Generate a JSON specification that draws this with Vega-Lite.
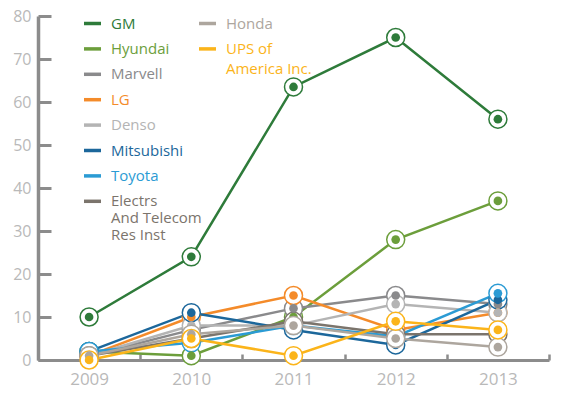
{
  "$schema": "https://vega.github.io/schema/vega-lite/v6.json",
  "width": 511,
  "height": 344,
  "autosize": {"type": "none"},
  "padding": {"left": 38, "top": 16, "right": 21, "bottom": 40},
  "background": "white",
  "config": {"view": {"stroke": null}, "font": "Open Sans"},
  "data": {
    "values": [
      {"company": "GM", "year": 2009, "count": 10},
      {"company": "GM", "year": 2010, "count": 24},
      {"company": "GM", "year": 2011, "count": 63.5},
      {"company": "GM", "year": 2012, "count": 75},
      {"company": "GM", "year": 2013, "count": 56},
      {"company": "Hyundai", "year": 2009, "count": 2},
      {"company": "Hyundai", "year": 2010, "count": 1},
      {"company": "Hyundai", "year": 2011, "count": 10},
      {"company": "Hyundai", "year": 2012, "count": 28},
      {"company": "Hyundai", "year": 2013, "count": 37},
      {"company": "Marvell", "year": 2009, "count": 1},
      {"company": "Marvell", "year": 2010, "count": 7},
      {"company": "Marvell", "year": 2011, "count": 12},
      {"company": "Marvell", "year": 2012, "count": 15},
      {"company": "Marvell", "year": 2013, "count": 13},
      {"company": "LG", "year": 2009, "count": 1},
      {"company": "LG", "year": 2010, "count": 10},
      {"company": "LG", "year": 2011, "count": 15},
      {"company": "LG", "year": 2012, "count": 7},
      {"company": "LG", "year": 2013, "count": 11},
      {"company": "Denso", "year": 2009, "count": 1},
      {"company": "Denso", "year": 2010, "count": 8},
      {"company": "Denso", "year": 2011, "count": 8},
      {"company": "Denso", "year": 2012, "count": 13},
      {"company": "Denso", "year": 2013, "count": 11},
      {"company": "Mitsubishi", "year": 2009, "count": 2},
      {"company": "Mitsubishi", "year": 2010, "count": 11},
      {"company": "Mitsubishi", "year": 2011, "count": 7},
      {"company": "Mitsubishi", "year": 2012, "count": 3.5},
      {"company": "Mitsubishi", "year": 2013, "count": 14},
      {"company": "Toyota", "year": 2009, "count": 2},
      {"company": "Toyota", "year": 2010, "count": 4},
      {"company": "Toyota", "year": 2011, "count": 8},
      {"company": "Toyota", "year": 2012, "count": 5.5},
      {"company": "Toyota", "year": 2013, "count": 15.5},
      {"company": "Electrs And Telecom Res Inst", "year": 2009, "count": 1},
      {"company": "Electrs And Telecom Res Inst", "year": 2010, "count": 5},
      {"company": "Electrs And Telecom Res Inst", "year": 2011, "count": 9},
      {"company": "Electrs And Telecom Res Inst", "year": 2012, "count": 6},
      {"company": "Electrs And Telecom Res Inst", "year": 2013, "count": 6},
      {"company": "Honda", "year": 2009, "count": 1},
      {"company": "Honda", "year": 2010, "count": 6},
      {"company": "Honda", "year": 2011, "count": 8},
      {"company": "Honda", "year": 2012, "count": 5},
      {"company": "Honda", "year": 2013, "count": 3},
      {"company": "UPS of America Inc.", "year": 2009, "count": 0},
      {"company": "UPS of America Inc.", "year": 2010, "count": 5},
      {"company": "UPS of America Inc.", "year": 2011, "count": 1},
      {"company": "UPS of America Inc.", "year": 2012, "count": 9},
      {"company": "UPS of America Inc.", "year": 2013, "count": 7}
    ]
  },
  "encoding": {
    "x": {
      "field": "year",
      "type": "ordinal",
      "scale": {"type": "band", "paddingInner": 0, "paddingOuter": 0},
      "axis": {
        "title": null,
        "grid": false,
        "labelAngle": 0,
        "tickBand": "extent",
        "domainColor": "#8c8c8c",
        "domainWidth": 3,
        "tickColor": "#8c8c8c",
        "tickWidth": 2.5,
        "tickSize": -6,
        "labelColor": "#b9b9b9",
        "labelFontSize": 17,
        "labelPadding": 17
      }
    },
    "y": {
      "field": "count",
      "type": "quantitative",
      "scale": {"domain": [0, 80]},
      "axis": {
        "title": null,
        "grid": false,
        "values": [0, 10, 20, 30, 40, 50, 60, 70, 80],
        "domainColor": "#8c8c8c",
        "domainWidth": 3.5,
        "tickColor": "#8c8c8c",
        "tickWidth": 3,
        "tickSize": -13,
        "labelColor": "#b9b9b9",
        "labelFontSize": 16,
        "labelPadding": 20
      }
    }
  },
  "layer": [
    {
      "transform": [{"filter": {"field": "company", "oneOf": ["GM", "Hyundai", "Marvell", "LG", "Denso", "Mitsubishi", "Toyota", "Electrs And Telecom Res Inst"]}}],
      "mark": {"type": "line", "strokeWidth": 2.5},
      "encoding": {
        "color": {
          "field": "company",
          "type": "nominal",
          "scale": {
            "domain": ["GM", "Hyundai", "Marvell", "LG", "Denso", "Mitsubishi", "Toyota", "Electrs And Telecom Res Inst"],
            "range": ["#2e7b3a", "#6c9e3b", "#8a8a8c", "#f48b2a", "#b4b4b4", "#1c679b", "#2b9bd4", "#7b746c"]
          },
          "legend": {
            "title": null,
            "orient": "none",
            "legendX": 44,
            "legendY": -3,
            "padding": 0,
            "symbolType": "stroke",
            "symbolSize": 289,
            "symbolStrokeWidth": 3.5,
            "labelFontSize": 15,
            "labelOffset": 8,
            "rowPadding": 6.4,
            "labelExpr": "datum.label == 'Electrs And Telecom Res Inst' ? ['Electrs', 'And Telecom', 'Res Inst'] : datum.label",
            "encode": {"labels": {"update": {"fill": {"scale": "color", "field": "value"}, "lineHeight": {"value": 17}, "baseline": {"value": "top"}, "dy": {"value": -7}}}}
          }
        }
      }
    },
    {
      "transform": [{"filter": {"field": "company", "oneOf": ["Honda", "UPS of America Inc."]}}],
      "mark": {"type": "line", "strokeWidth": 2.5},
      "encoding": {
        "stroke": {
          "field": "company",
          "type": "nominal",
          "scale": {"domain": ["Honda", "UPS of America Inc."], "range": ["#ada69e", "#fbb41a"]},
          "legend": {
            "title": null,
            "orient": "none",
            "legendX": 159,
            "legendY": -3,
            "padding": 0,
            "symbolType": "stroke",
            "symbolSize": 289,
            "symbolStrokeWidth": 3.5,
            "labelFontSize": 15,
            "labelOffset": 8,
            "rowPadding": 6.4,
            "labelExpr": "datum.label == 'UPS of America Inc.' ? ['UPS of', 'America Inc.'] : datum.label",
            "encode": {"labels": {"update": {"fill": {"scale": "stroke", "field": "value"}, "lineHeight": {"value": 20}, "baseline": {"value": "top"}, "dy": {"value": -7}}}}
          }
        }
      }
    },
    {
      "transform": [{"filter": {"field": "company", "oneOf": ["GM", "Hyundai", "Marvell", "LG", "Denso", "Mitsubishi", "Toyota", "Electrs And Telecom Res Inst"]}}],
      "mark": {"type": "point", "shape": "circle", "filled": false, "fill": "white", "fillOpacity": 1, "opacity": 1, "size": 324, "strokeWidth": 1.5},
      "encoding": {
        "color": {
          "field": "company",
          "type": "nominal",
          "scale": {
            "domain": ["GM", "Hyundai", "Marvell", "LG", "Denso", "Mitsubishi", "Toyota", "Electrs And Telecom Res Inst"],
            "range": ["#2e7b3a", "#6c9e3b", "#8a8a8c", "#f48b2a", "#b4b4b4", "#1c679b", "#2b9bd4", "#7b746c"]
          }
        }
      }
    },
    {
      "transform": [{"filter": {"field": "company", "oneOf": ["GM", "Hyundai", "Marvell", "LG", "Denso", "Mitsubishi", "Toyota", "Electrs And Telecom Res Inst"]}}],
      "mark": {"type": "point", "shape": "circle", "filled": true, "opacity": 1, "size": 75},
      "encoding": {
        "color": {
          "field": "company",
          "type": "nominal",
          "scale": {
            "domain": ["GM", "Hyundai", "Marvell", "LG", "Denso", "Mitsubishi", "Toyota", "Electrs And Telecom Res Inst"],
            "range": ["#2e7b3a", "#6c9e3b", "#8a8a8c", "#f48b2a", "#b4b4b4", "#1c679b", "#2b9bd4", "#7b746c"]
          }
        }
      }
    },
    {
      "transform": [{"filter": {"field": "company", "oneOf": ["Honda", "UPS of America Inc."]}}],
      "mark": {"type": "point", "shape": "circle", "filled": false, "fill": "white", "fillOpacity": 1, "opacity": 1, "size": 324, "strokeWidth": 1.5},
      "encoding": {
        "stroke": {
          "field": "company",
          "type": "nominal",
          "scale": {"domain": ["Honda", "UPS of America Inc."], "range": ["#ada69e", "#fbb41a"]}
        }
      }
    },
    {
      "transform": [{"filter": {"field": "company", "oneOf": ["Honda", "UPS of America Inc."]}}],
      "mark": {"type": "point", "shape": "circle", "filled": true, "opacity": 1, "size": 75, "strokeWidth": 0},
      "encoding": {
        "fill": {
          "field": "company",
          "type": "nominal",
          "scale": {"domain": ["Honda", "UPS of America Inc."], "range": ["#ada69e", "#fbb41a"]},
          "legend": null
        }
      }
    }
  ]
}
